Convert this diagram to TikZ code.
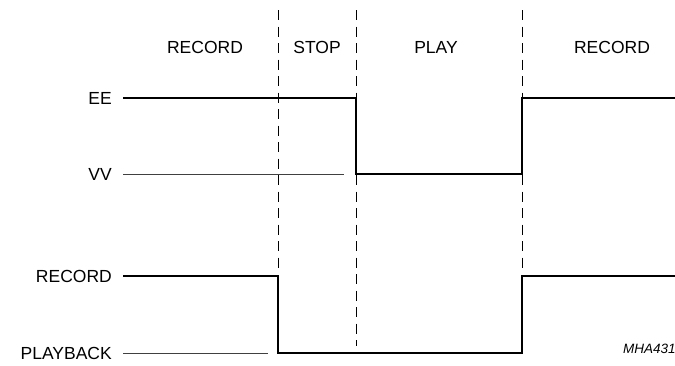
\documentclass[tikz,border=0pt]{standalone}
\usepackage{fontspec}
\setmainfont{Liberation Sans}
\begin{document}
\begin{tikzpicture}[x=1pt,y=-1pt,
  lab/.style={font=\fontsize{17.5}{20}\selectfont,inner sep=0pt,anchor=east},
  head/.style={font=\fontsize{17.5}{20}\selectfont,inner sep=0pt},
  sig/.style={line width=2.6pt,line join=miter},
  thin/.style={line width=0.9pt,draw=black!75},
  divider/.style={line width=0.9pt,dash pattern=on 10pt off 6.5pt}]
\useasboundingbox (0,0) rectangle (675,365);
% header labels
\node[head] (h1) at (205,47) {RECORD};
\node[head] (h2) at (317,47) {STOP};
\node[head] (h3) at (436,47) {PLAY};
\node[head] (h4) at (612,47) {RECORD};
% level labels
\node[lab] (ee) at (112,98) {EE};
\node[lab] (vv) at (112,174) {VV};
\node[lab] (rec) at (112,276) {RECORD};
\node[lab] (pb) at (112,353) {PLAYBACK};
% dividers
\coordinate (d1t) at (278,10); \coordinate (d1b) at (278,270);
\coordinate (d2t) at (356,10); \coordinate (d2b) at (356,346);
\coordinate (d3t) at (522,10); \coordinate (d3b) at (522,270);
\draw[divider] (d1t) -- (d1b);
\draw[divider] (d2t) -- (d2b);
\draw[divider] (d3t) -- (d3b);
% EE/VV signal
\coordinate (e0) at (123,98);
\coordinate (e1) at (356,98);
\coordinate (e2) at (356,174);
\coordinate (e3) at (522,174);
\coordinate (e4) at (522,98);
\coordinate (e5) at (676,98);
\draw[sig] (e0) -- (e1) -- (e2) -- (e3) -- (e4) -- (e5);
\coordinate (v0) at (123,174);
\coordinate (v1) at (344,174);
\draw[thin] (v0) -- (v1);
% RECORD/PLAYBACK signal
\coordinate (r0) at (123,276);
\coordinate (r1) at (278,276);
\coordinate (r2) at (278,353);
\coordinate (r3) at (522,353);
\coordinate (r4) at (522,276);
\coordinate (r5) at (676,276);
\draw[sig] (r0) -- (r1) -- (r2) -- (r3) -- (r4) -- (r5);
\coordinate (p0) at (123,353);
\coordinate (p1) at (268,353);
\draw[thin] (p0) -- (p1);
% figure code
\node[font=\fontsize{13.5}{15}\selectfont\itshape,inner sep=0pt,anchor=base west] (code) at (623,353) {MHA431};
\end{tikzpicture}
\end{document}
